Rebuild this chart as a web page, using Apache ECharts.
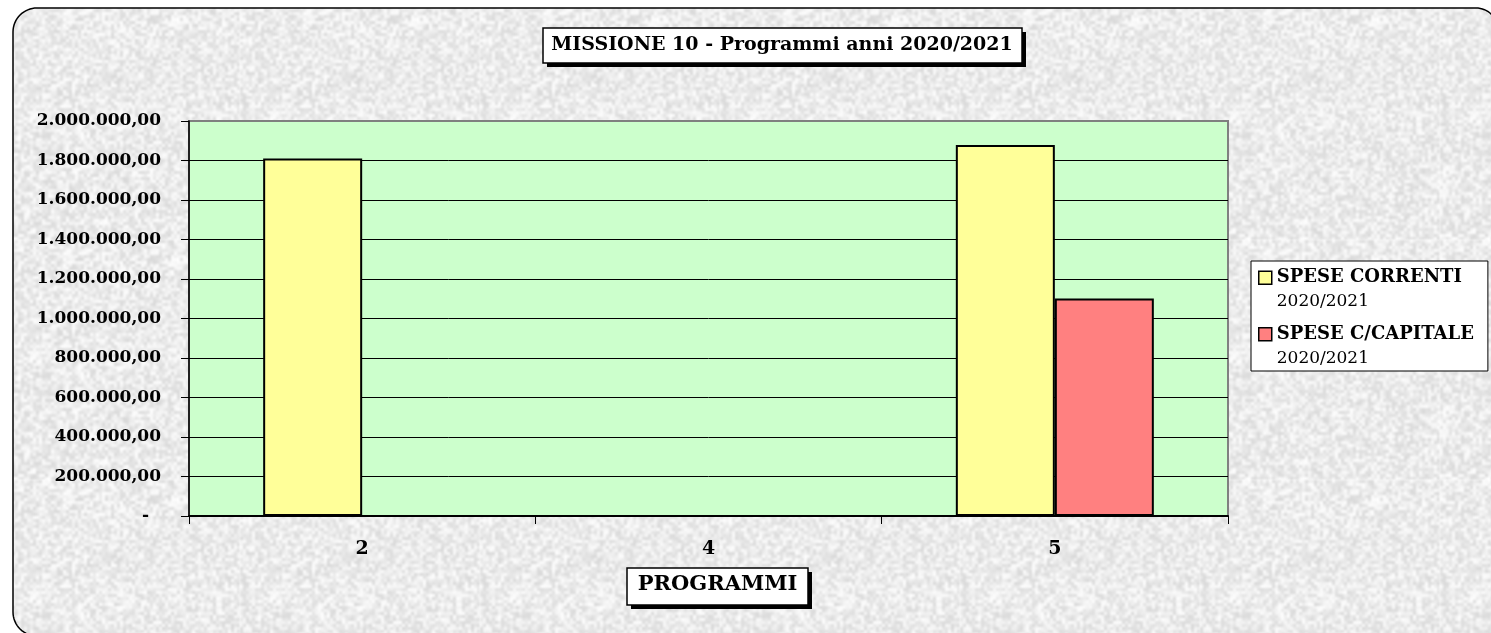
<!DOCTYPE html>
<html>
<head>
<meta charset="utf-8">
<script src="https://cdn.jsdelivr.net/npm/echarts@6/dist/echarts.min.js"></script>
<style>
  html, body { margin: 0; padding: 0; background: #ffffff; overflow: hidden; }
  #chart { width: 1491px; height: 633px; }
</style>
</head>
<body>
<div id="chart"></div>
<script>
// Chart texts
const titleText = 'MISSIONE 10 - Programmi anni 2020/2021';
const xAxisTitle = 'PROGRAMMI';

// Programme codes on the category axis
const categories = ['2', '4', '5'];

// Series (legend names) and their values in euro
const seriesNames = ['SPESE CORRENTI 2020/2021', 'SPESE C/CAPITALE 2020/2021'];
const speseCorrenti = [1810000, 0, 1878000];
const speseCapitale = [0, 0, 1101000];

// Value axis range and step
const yMin = 0;
const yMax = 2000000;
const yStep = 200000;

const FONT = "'DejaVu Serif', serif";

// Italian number format: 1.800.000,00 ; zero shown as a dash
function formatEuro(v) {
  if (v === 0) return '-  ';
  const s = Math.round(v).toString().replace(/\B(?=(\d{3})+(?!\d))/g, '.');
  return s + ',00';
}

// Legend entries: label in bold, period on its own line
function legendLabel(name) {
  const i = name.lastIndexOf(' ');
  return '{b|' + name.slice(0, i) + '}\n{n|' + name.slice(i + 1) + '}';
}

// Fine mottled grey paper texture for the chart background (seeded, so it is always the same)
function makeTexture() {
  const size = 240, cell = 3;
  let seed = 20202021;
  function prng() {
    seed = (seed + 0x6D2B79F5) | 0;
    let t = Math.imul(seed ^ (seed >>> 15), 1 | seed);
    t = (t + Math.imul(t ^ (t >>> 7), 61 | t)) ^ t;
    return ((t ^ (t >>> 14)) >>> 0) / 4294967296;
  }
  const raw = document.createElement('canvas');
  raw.width = raw.height = size;
  const rc = raw.getContext('2d');
  for (let y = 0; y < size / cell; y++) {
    for (let x = 0; x < size / cell; x++) {
      const g = Math.round(216 + prng() * 38);
      rc.fillStyle = 'rgb(' + g + ',' + g + ',' + g + ')';
      rc.fillRect(x * cell, y * cell, cell, cell);
    }
  }
  // soften a 3x3 tiled copy so the tile edges stay seamless
  const big = document.createElement('canvas');
  big.width = big.height = size * 3;
  const bc = big.getContext('2d');
  bc.filter = 'blur(1.3px)';
  for (let i = 0; i < 3; i++) for (let j = 0; j < 3; j++) bc.drawImage(raw, i * size, j * size);
  const tex = document.createElement('canvas');
  tex.width = tex.height = size;
  tex.getContext('2d').drawImage(big, size, size, size, size, 0, 0, size, size);
  return tex;
}

// Outline of the rounded frame as a polyline (corners sampled as quarter circles).
// The right side sits just past the canvas edge, so only the top-right bend shows.
function framePoints() {
  const pts = [];
  function arc(cx, cy, r, a0, a1) {
    const n = 16;
    for (let i = 0; i <= n; i++) {
      const a = (a0 + (a1 - a0) * i / n) * Math.PI / 180;
      pts.push([cx + r * Math.cos(a), cy + r * Math.sin(a)]);
    }
  }
  pts.push([1498, 640]);
  arc(1476, 30, 22, 0, -90);      // top-right
  arc(37, 32, 24, -90, -180);     // top-left
  arc(37, 612, 24, 180, 90);      // bottom-left
  pts.push([1540, 636]);
  return pts;
}

const chart = echarts.init(document.getElementById('chart'), null, { renderer: 'canvas' });

const option = {
  backgroundColor: '#ffffff',
  animation: false,
  graphic: [
    {
      // textured paper inside the frame
      type: 'polygon',
      z: -100,
      silent: true,
      shape: { points: framePoints() },
      style: { fill: { image: makeTexture(), repeat: 'repeat' }, stroke: null }
    },
    {
      type: 'polyline',
      z: -90,
      silent: true,
      shape: { points: framePoints() },
      style: { fill: null, stroke: '#000000', lineWidth: 1.5 }
    },
    // title box with drop shadow
    { type: 'rect', z: -60, silent: true, shape: { x: 547, y: 32, width: 479, height: 35 }, style: { fill: '#000000' } },
    { type: 'rect', z: -50, silent: true, shape: { x: 543, y: 28, width: 479, height: 35 },
      style: { fill: '#ffffff', stroke: '#000000', lineWidth: 1.5 } },
    // category axis title box with drop shadow
    { type: 'rect', z: -60, silent: true, shape: { x: 631, y: 572, width: 181, height: 37 }, style: { fill: '#000000' } },
    { type: 'rect', z: -50, silent: true, shape: { x: 627, y: 568, width: 181, height: 37 },
      style: { fill: '#ffffff', stroke: '#000000', lineWidth: 1.5 } }
  ],
  title: {
    text: titleText,
    left: 782,
    top: 36,
    textAlign: 'center',
    padding: 0,
    z: 6,
    textStyle: {
      fontFamily: FONT,
      fontWeight: 'bold',
      fontSize: 19,
      lineHeight: 19,
      color: '#000000'
    }
  },
  legend: {
    orient: 'vertical',
    left: 1251,
    top: 261,
    padding: [4, 14, 0, 7],
    itemGap: 7,
    itemWidth: 13,
    itemHeight: 48,
    icon: 'path://M0,5.5H13V18.5H0Z M0,0 M13,48',
    backgroundColor: '#ffffff',
    borderColor: '#000000',
    borderWidth: 1,
    borderRadius: 0,
    selectedMode: false,
    itemStyle: { borderColor: '#000000', borderWidth: 1.5 },
    formatter: legendLabel,
    textStyle: {
      fontFamily: FONT,
      color: '#000000',
      rich: {
        b: { fontFamily: FONT, fontWeight: 'bold', fontSize: 18, lineHeight: 24, color: '#000' },
        n: { fontFamily: FONT, fontWeight: 'normal', fontSize: 17, lineHeight: 24, color: '#000' }
      }
    },
    data: seriesNames
  },
  grid: {
    left: 189,
    right: 263,
    top: 121,
    bottom: 117,
    show: true,
    backgroundColor: '#ccffcc',
    borderColor: '#808080',
    borderWidth: 2
  },
  xAxis: {
    type: 'category',
    data: categories,
    boundaryGap: true,
    name: xAxisTitle,
    nameLocation: 'middle',
    nameGap: 58,
    nameTextStyle: {
      fontFamily: FONT,
      fontWeight: 'bold',
      fontSize: 21,
      lineHeight: 21,
      color: '#000000',
      padding: [0, 0, 0, 18]
    },
    axisLine: { show: true, lineStyle: { color: '#000000', width: 2 } },
    axisTick: { show: true, alignWithLabel: false, length: 8, lineStyle: { color: '#000000', width: 1 } },
    axisLabel: {
      margin: 24,
      fontFamily: FONT,
      fontWeight: 'bold',
      fontSize: 19,
      color: '#000000'
    },
    splitLine: { show: false }
  },
  yAxis: {
    type: 'value',
    min: yMin,
    max: yMax,
    interval: yStep,
    axisLine: { show: true, lineStyle: { color: '#000000', width: 1.5 } },
    axisTick: { show: true, inside: false, length: 8, lineStyle: { color: '#000000', width: 1 } },
    axisLabel: {
      margin: 28,
      fontFamily: FONT,
      fontWeight: 'bold',
      fontSize: 17,
      color: '#000000',
      formatter: formatEuro
    },
    splitLine: {
      show: true,
      showMinLine: false,
      showMaxLine: false,
      lineStyle: { color: '#000000', width: 1 }
    }
  },
  series: [
    {
      name: seriesNames[0],
      type: 'bar',
      data: speseCorrenti,
      barWidth: 99,
      barGap: '0%',
      itemStyle: { color: '#ffff99', borderColor: '#000000', borderWidth: 2 }
    },
    {
      name: seriesNames[1],
      type: 'bar',
      data: speseCapitale,
      barWidth: 99,
      barGap: '0%',
      itemStyle: { color: '#ff8080', borderColor: '#000000', borderWidth: 2 }
    }
  ]
};

chart.setOption(option);
</script>
</body>
</html>
